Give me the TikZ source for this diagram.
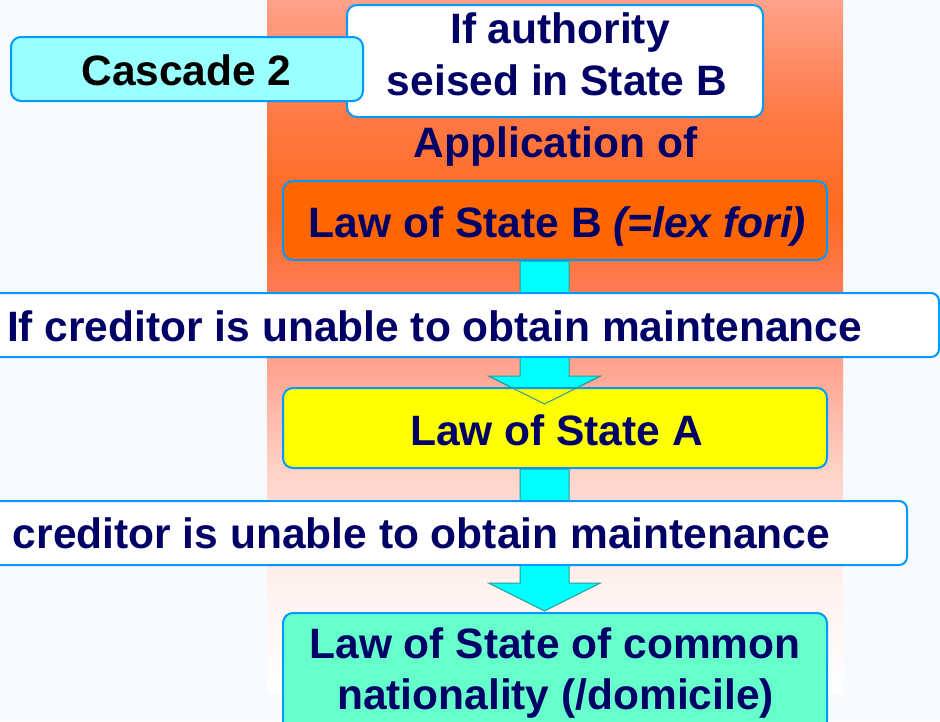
\documentclass[tikz,border=0pt]{standalone}
\usepackage{fontspec}
\setmainfont{Liberation Sans}
\usetikzlibrary{calc}
\definecolor{bgc}{HTML}{F7FBFF}
\definecolor{bordc}{HTML}{0099FF}
\definecolor{navy}{HTML}{000066}
\definecolor{cascfill}{HTML}{99FFFF}
\definecolor{orangefill}{HTML}{FF6600}
\definecolor{yellowfill}{HTML}{FFFF00}
\definecolor{mintfill}{HTML}{66FFCC}
\definecolor{arrfill}{HTML}{00FFFF}
\definecolor{arrline}{HTML}{2A9C9C}
\definecolor{g0}{HTML}{FFA28A}
\definecolor{g1}{HTML}{FF7A48}
\definecolor{g2}{HTML}{FF6A1E}
\definecolor{g3}{HTML}{FF7C55}
\definecolor{g4}{HTML}{FFA08A}
\definecolor{g5}{HTML}{FFD2C8}
\definecolor{g6}{HTML}{FFF1EE}
\definecolor{g7}{HTML}{FFFFFF}
\pgfdeclarelayer{bg}
\pgfdeclarelayer{arr}
\pgfdeclarelayer{fg}
\pgfsetlayers{bg,arr,main,fg}
\begin{document}
\begin{tikzpicture}[x=1pt,y=-1pt,
  box/.style={draw=bordc, line width=2pt, rounded corners=10pt, inner sep=0pt},
  txt/.style={font=\fontsize{42.5}{50}\selectfont\bfseries, text=navy, inner sep=0pt, anchor=base},
  blockarrow/.style={fill=arrfill, draw=arrline, line width=1pt},
  vline/.style={draw=arrline, line width=1pt}]
\useasboundingbox (0,0) rectangle (940,721);
\begin{pgfonlayer}{bg}
\fill[bgc] (0,0) rectangle (940,721);
\fill[top color=g0, bottom color=g1] (267,0) rectangle (843,110.5);
\fill[top color=g1, bottom color=g2] (267,110) rectangle (843,210.5);
\fill[top color=g2, bottom color=g3] (267,210) rectangle (843,290.5);
\fill[top color=g3, bottom color=g4] (267,290) rectangle (843,357.5);
\fill[top color=g4, bottom color=g5] (267,357) rectangle (843,470.5);
\fill[top color=g5, bottom color=g6] (267,470) rectangle (843,580.5);
\fill[top color=g6, bottom color=g7] (267,580) rectangle (843,693);
\end{pgfonlayer}

% boxes
\node[box, fill=white, minimum width=416pt, minimum height=112pt] (auth) at (555,61) {};
\node[txt] (authA) at (560,43) {If authority};
\node[txt] (authB) at (557,95) {seised in State B};
\node[box, fill=cascfill, minimum width=352pt, minimum height=64pt] (casc) at (187,69) {};
\node[txt, text=black] (cascT) at (186.5,85) {Cascade 2};
\node[txt] (app) at (555.5,157) {Application of};
\node[box, fill=orangefill, minimum width=544pt, minimum height=79pt] (lawB) at (555,220.5) {};
\node[txt] (lawBT) at (557.5,237) {Law of State B \textit{(=lex fori)}};
\node[box, fill=white, rounded corners=8pt, minimum width=959pt, minimum height=64pt] (cred1) at (459.5,325) {};
\node[txt] (cred1T) at (434.5,341) {If creditor is unable to obtain maintenance};
\node[box, fill=yellowfill, minimum width=544pt, minimum height=80pt] (lawA) at (555,428) {};
\node[txt] (lawAT) at (556.5,445) {Law of State A};
\node[box, fill=white, rounded corners=8pt, minimum width=927pt, minimum height=64pt] (cred2) at (443.5,533) {};
\node[txt] (cred2T) at (421.5,548) {creditor is unable to obtain maintenance};
\node[box, fill=mintfill, minimum width=544pt, minimum height=137pt] (common) at (555,681.5) {};
\node[txt] (commonA) at (555,658) {Law of State of common};
\node[txt] (commonB) at (555.5,709) {nationality (/domicile)};

% block arrows
\coordinate (a1s) at ($(lawB.south)+(-10.5,0)$);
\coordinate (a1t) at ($(lawA.north)+(-10.5,17)$);
\coordinate (a2s) at ($(lawA.south)+(-10.5,0)$);
\coordinate (a2t) at ($(common.north)+(-10.5,-1)$);
\begin{pgfonlayer}{arr}
\path[blockarrow] ($(a1s)+(-24.5,0)$) -- ($(a1t)+(-24.5,-28)$) -- ($(a1t)+(-56,-28)$) -- (a1t)
  -- ($(a1t)+(56,-28)$) -- ($(a1t)+(24.5,-28)$) -- ($(a1s)+(24.5,0)$) -- cycle;
\path[blockarrow] ($(a2s)+(-24.5,0)$) -- ($(a2t)+(-24.5,-28)$) -- ($(a2t)+(-56,-28)$) -- (a2t)
  -- ($(a2t)+(56,-28)$) -- ($(a2t)+(24.5,-28)$) -- ($(a2s)+(24.5,0)$) -- cycle;
\end{pgfonlayer}
\begin{pgfonlayer}{fg}
\path[vline] ($(a1t)+(-56,-28)$) -- (a1t) -- ($(a1t)+(56,-28)$);
\end{pgfonlayer}
\end{tikzpicture}
\end{document}
